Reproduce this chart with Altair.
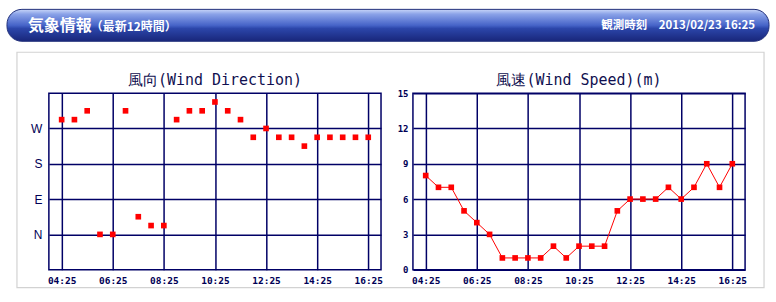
import altair as alt
import pandas as pd

# ---- data ----
times = ["04:25", "04:55", "05:25", "05:55", "06:25", "06:55", "07:25", "07:55",
         "08:25", "08:55", "09:25", "09:55", "10:25", "10:55", "11:25", "11:55",
         "12:25", "12:55", "13:25", "13:55", "14:25", "14:55", "15:25", "15:55", "16:25"]
direction_deg = [292.5, 292.5, 315, 0, 0, 315, 45, 22.5, 22.5, 292.5, 315, 315, 337.5,
                 315, 292.5, 247.5, 270, 247.5, 247.5, 225, 247.5, 247.5, 247.5, 247.5, 247.5]
speed_m = [8, 7, 7, 5, 4, 3, 1, 1, 1, 1, 2, 1, 2, 2, 2, 5, 6, 6, 6, 7, 6, 7, 9, 7, 9]

x_tick_labels = ["04:25", "06:25", "08:25", "10:25", "12:25", "14:25", "16:25"]
dir_tick_values = [0, 90, 180, 270]
dir_tick_labels = ["N", "E", "S", "W"]
speed_ticks = [0, 3, 6, 9, 12, 15]

header_title = "気象情報"
header_sub = "（最新12時間）"
header_time = "観測時刻　2013/02/23 16:25"
title_dir = "風向(Wind Direction)"
title_speed = "風速(Wind Speed)(m)"


def to_min(t):
    h, m = t.split(":")
    return int(h) * 60 + int(m)


df = pd.DataFrame({
    "minutes": [to_min(t) for t in times],
    "time": times,
    "dir": direction_deg,
    "speed": speed_m,
})

x_vals = [to_min(t) for t in x_tick_labels]
x_label_expr = " : ".join(
    f"datum.value == {v} ? '{l}'" for v, l in zip(x_vals, x_tick_labels)
) + " : ''"
dir_label_expr = " : ".join(
    f"datum.value == {v} ? '{l}'" for v, l in zip(dir_tick_values, dir_tick_labels)
) + " : ''"

NAVY = "#000066"
RED = "#ff0000"
W, H = 333, 177

x_enc = alt.X(
    "minutes:Q",
    scale=alt.Scale(domain=[x_vals[0] - 30, x_vals[-1] + 30], nice=False, zero=False),
    axis=alt.Axis(values=x_vals, labelExpr=x_label_expr, title=None,
                  labelFont="DejaVu Sans Mono", labelFontWeight="bold",
                  labelFontSize=9.5, labelColor="#000055", labelPadding=6),
)

one = alt.Data(values=[{}])


def deco_rect(x, x2, y, y2, **kw):
    return alt.Chart(one).mark_rect(**kw).encode(
        x=alt.value(x), x2=alt.value(x2), y=alt.value(y), y2=alt.value(y2))


def deco_text(text, x, y, **kw):
    return alt.Chart(one).mark_text(text=text, **kw).encode(
        x=alt.value(x), y=alt.value(y))


# offsets: left plot origin is at (48, 92) in the page
OX, OY = 48, 92

canvas = deco_rect(-OX, 776 - OX, -OY, 302 - OY, opacity=0)
box = deco_rect(16 - OX, 765 - OX, 51 - OY, 287 - OY, fill=None,
                stroke="#d2d2d2", strokeWidth=1.2, filled=False)
header = deco_rect(
    6 - OX, 770 - OX, 8 - OY, 40 - OY,
    cornerRadius=15, stroke="#22307a", strokeWidth=1,
    fill=alt.Gradient(
        gradient="linear", x1=0, y1=0, x2=0, y2=1,
        stops=[
            alt.GradientStop(offset=0, color="#c8d6f8"),
            alt.GradientStop(offset=0.15, color="#8aa2e8"),
            alt.GradientStop(offset=0.5, color="#4664c8"),
            alt.GradientStop(offset=0.6, color="#2c46aa"),
            alt.GradientStop(offset=1, color="#18267a"),
        ],
    ),
)
h1 = deco_text(header_title, 27 - OX, 25 - OY, font="Noto Sans CJK JP",
               fontSize=16, fontWeight="bold", color="white", align="left",
               baseline="middle")
h2 = deco_text(header_sub, 90 - OX, 26 - OY, font="Noto Sans CJK JP",
               fontSize=12, fontWeight="bold", color="white", align="left",
               baseline="middle")
h3 = deco_text(header_time, 756 - OX, 25 - OY, font="Noto Sans CJK JP",
               fontSize=11.5, fontWeight="bold", color="white", align="right",
               baseline="middle")

t_left = deco_text(title_dir, W / 2, -8, font="DejaVu Sans Mono", fontSize=15,
                   color="#101050", align="center", baseline="alphabetic")
t_right = deco_text(title_speed, W / 2, -8, font="DejaVu Sans Mono", fontSize=15,
                    color="#101050", align="center", baseline="alphabetic")

base = alt.Chart(df)

left_pts = base.mark_square(size=32, color=RED, opacity=1).encode(
    x=x_enc,
    y=alt.Y("dir:Q",
            scale=alt.Scale(domain=[-90, 360], nice=False, zero=False),
            axis=alt.Axis(values=dir_tick_values, labelExpr=dir_label_expr,
                          title=None, labelFont="Liberation Sans",
                          labelFontSize=12, labelColor="#000055",
                          labelPadding=7)),
)

left = alt.layer(canvas, header, box, h1, h2, h3, t_left, left_pts).properties(
    width=W, height=H)

y_speed = alt.Y("speed:Q",
                scale=alt.Scale(domain=[0, 15], nice=False, zero=False),
                axis=alt.Axis(values=speed_ticks, title=None,
                              labelFont="DejaVu Sans Mono", labelFontWeight="bold",
                              labelFontSize=9, labelColor="#000055",
                              labelPadding=5))

right_line = base.mark_line(color=RED, strokeWidth=1).encode(x=x_enc, y=y_speed)
right_pts = base.mark_square(size=32, color=RED, opacity=1).encode(x=x_enc, y=y_speed)
right = alt.layer(t_right, right_line, right_pts).properties(width=W, height=H)

chart = alt.hconcat(left, right, spacing=32, bounds="flush", padding=0,
                    background="white").configure_view(
    stroke=NAVY, strokeWidth=1.5
).configure_axis(
    grid=True, gridColor=NAVY, gridWidth=1.5, gridOpacity=1,
    ticks=False, domain=False,
)

chart.save("out.html", embed_options={"renderer": "svg", "actions": False})
